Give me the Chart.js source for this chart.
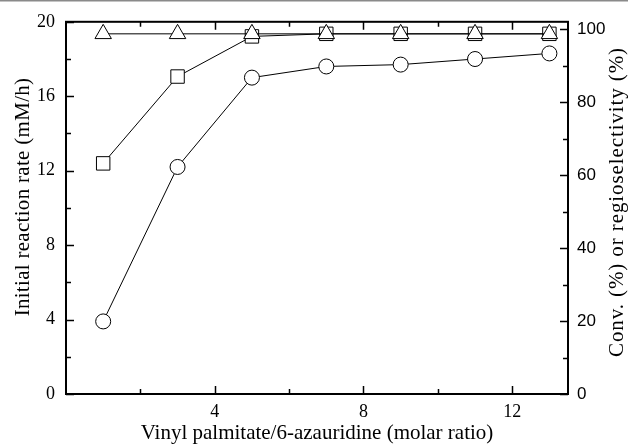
<!DOCTYPE html>
<html>
<head>
<meta charset="utf-8">
<script src="https://cdn.jsdelivr.net/npm/chart.js@4.4.0/dist/chart.umd.min.js"></script>
<style>
    html, body { margin: 0; padding: 0; background: #fff; }
    #wrap { width: 628px; height: 446px; position: relative; }
</style>
</head>
<body>
<div id="wrap"><canvas id="chart" width="628" height="446"></canvas></div>
<script>
// molar ratio (x) shared by all series
const molarRatio = [1, 3, 5, 7, 9, 11, 13];
// initial reaction rate, mM/h (left axis, circles)
const initialRate = [3.9, 12.2, 17.0, 17.6, 17.7, 18.0, 18.3];
// conversion, % (right axis, squares)
const conversion = [63.2, 87.0, 98.0, 98.7, 98.7, 98.7, 98.7];
// regioselectivity, % (right axis, triangles)
const regioselectivity = [98.7, 98.7, 98.7, 98.7, 98.7, 98.7, 98.7];

const xTicks = [2, 4, 6, 8, 10, 12];
const xLabels = [4, 8, 12];
const leftTicks = [0, 2, 4, 6, 8, 10, 12, 14, 16, 18, 20];
const leftLabels = [0, 4, 8, 12, 16, 20];
const rightTicks = [0, 10, 20, 30, 40, 50, 60, 70, 80, 90, 100];
const rightLabels = [0, 20, 40, 60, 80, 100];

const leftTitle = 'Initial reaction rate (mM/h)';
const rightTitle = 'Conv. (%) or regioselectivity (%)';

const SERIF = '"Liberation Serif", "DejaVu Serif", serif';
const SANS = '"Liberation Sans", Arial, sans-serif';

const toPoints = values => values.map((v, i) => ({ x: molarRatio[i], y: v }));

const markerStyle = (shape, radius, axis) => ({
    pointStyle: shape,
    pointRadius: radius,
    pointHoverRadius: radius,
    pointBackgroundColor: '#fff',
    pointBorderColor: '#000',
    pointBorderWidth: 1,
    borderColor: '#000',
    borderWidth: 1,
    showLine: true,
    fill: false,
    tension: 0,
    yAxisID: axis
});

// rotated title, reading bottom-to-top
function drawVerticalTitle(ctx, text, cx, cy, spacing) {
    ctx.save();
    ctx.fillStyle = '#000';
    ctx.textAlign = 'center';
    ctx.textBaseline = 'middle';
    ctx.font = '21px ' + SERIF;
    ctx.letterSpacing = spacing;
    ctx.translate(cx, cy);
    ctx.rotate(-Math.PI / 2);
    ctx.fillText(text, 0, 0);
    ctx.restore();
}

/**
 * Draws inward tick marks, the plot frame, the vertical titles
 * and the thin top border line
 */
const frameTicks = {
    id: 'frameTicks',
    beforeDraw(chart) {
        const ctx = chart.ctx;
        ctx.save();
        ctx.strokeStyle = '#8a8a8a';
        ctx.lineWidth = 1.5;
        ctx.beginPath();
        ctx.moveTo(0, 0.75);
        ctx.lineTo(chart.width, 0.75);
        ctx.stroke();
        ctx.restore();
    },
    afterDraw(chart) {
        const { ctx, chartArea: a, scales } = chart;
        ctx.save();
        ctx.strokeStyle = '#000';
        ctx.lineWidth = 2;
        ctx.strokeRect(a.left, a.top, a.right - a.left, a.bottom - a.top);

        ctx.lineWidth = 1.5;
        ctx.beginPath();
        xTicks.forEach(v => {
            const px = Math.round(scales.x.getPixelForValue(v)) + 0.5;
            const len = xLabels.includes(v) ? 8 : 5;
            ctx.moveTo(px, a.bottom);
            ctx.lineTo(px, a.bottom - len);
            ctx.moveTo(px, a.top);
            ctx.lineTo(px, a.top + len);
        });
        leftTicks.forEach(v => {
            const py = Math.round(scales.y.getPixelForValue(v)) + 0.5;
            const len = leftLabels.includes(v) ? 8 : 5;
            ctx.moveTo(a.left, py);
            ctx.lineTo(a.left + len, py);
        });
        rightTicks.forEach(v => {
            const py = Math.round(scales.y2.getPixelForValue(v)) + 0.5;
            const len = rightLabels.includes(v) ? 8 : 5;
            ctx.moveTo(a.right, py);
            ctx.lineTo(a.right - len, py);
        });
        ctx.stroke();
        ctx.restore();

        drawVerticalTitle(ctx, leftTitle, 23, 197, '0.3px');
        drawVerticalTitle(ctx, rightTitle, 617, 202, '0.9px');
    }
};

const setTicks = list => scale => {
    scale.ticks = list.map(v => ({ value: v }));
};

new Chart(document.getElementById('chart'), {
    type: 'scatter',
    data: {
        datasets: [
            {
                label: 'Regioselectivity (%)',
                data: toPoints(regioselectivity),
                ...markerStyle('triangle', 9.5, 'y2')
            },
            {
                label: 'Conv. (%)',
                data: toPoints(conversion),
                ...markerStyle('rect', 9.5, 'y2')
            },
            {
                label: 'Initial reaction rate (mM/h)',
                data: toPoints(initialRate),
                ...markerStyle('circle', 7.5, 'y')
            }
        ]
    },
    options: {
        responsive: false,
        animation: false,
        layout: { padding: { top: 20, left: 0, right: 0, bottom: 0 } },
        plugins: {
            legend: { display: false },
            tooltip: { enabled: false }
        },
        scales: {
            x: {
                type: 'linear',
                min: 0,
                max: 13.5,
                afterBuildTicks: setTicks(xTicks),
                afterFit: scale => { scale.height = 52; },
                grid: { display: false, drawTicks: false },
                border: { display: false },
                ticks: {
                    padding: 7,
                    color: '#000',
                    font: { family: SERIF, size: 18 },
                    callback: v => xLabels.includes(v) ? String(v) : ''
                },
                title: {
                    display: true,
                    text: 'Vinyl palmitate/6-azauridine (molar ratio)',
                    color: '#000',
                    font: { family: SERIF, size: 21 },
                    padding: { top: 0, bottom: 0 }
                }
            },
            y: {
                position: 'left',
                min: 0,
                max: 20,
                afterBuildTicks: setTicks(leftTicks),
                afterFit: scale => { scale.width = 66; },
                grid: { display: false, drawTicks: false },
                border: { display: false },
                ticks: {
                    padding: 11,
                    color: '#000',
                    font: { family: SERIF, size: 18 },
                    callback: v => leftLabels.includes(v) ? String(v) : ''
                }
            },
            y2: {
                position: 'right',
                min: 0,
                max: 102,
                afterBuildTicks: setTicks(rightTicks),
                afterFit: scale => { scale.width = 60; },
                grid: { display: false, drawTicks: false },
                border: { display: false },
                ticks: {
                    padding: 9,
                    color: '#000',
                    font: { family: SANS, size: 17 },
                    callback: v => rightLabels.includes(v) ? String(v) : ''
                }
            }
        }
    },
    plugins: [frameTicks]
});
</script>
</body>
</html>
